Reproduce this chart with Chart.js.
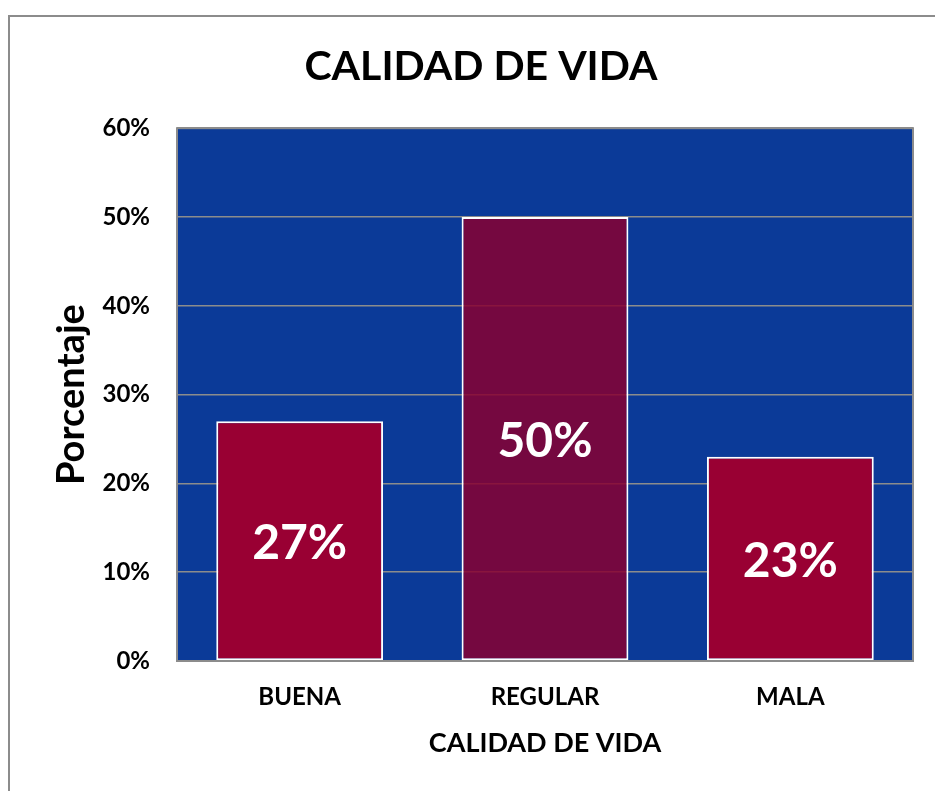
<!DOCTYPE html>
<html>
<head>
<meta charset="utf-8">
<script src="https://cdn.jsdelivr.net/npm/chart.js@4.4.1/dist/chart.umd.min.js"></script>
<style>
  html, body { margin: 0; padding: 0; background: #ffffff; }
  #frame { position: absolute; left: 8px; top: 15px; width: 1000px; height: 900px; border: 2px solid #8c8c8c; box-sizing: border-box; }
  #wrap { position: absolute; left: 0; top: 0; width: 935px; height: 791px; }
</style>
</head>
<body>
<div id="frame"></div>
<div id="wrap"><canvas id="c" width="935" height="791"></canvas></div>
<script>
const categories = ['BUENA', 'REGULAR', 'MALA'];
const values = [27, 50, 23];
const barColors = ['#990033', 'rgba(136, 0, 48, 0.85)', '#990033'];
const yTicks = [0, 10, 20, 30, 40, 50, 60];
const chartTitle = 'CALIDAD DE VIDA';
const xTitle = 'CALIDAD DE VIDA';
const yTitle = 'Porcentaje';

const FONT = 'Lato, Carlito, "Open Sans", sans-serif';

const plotBg = {
  id: 'plotBg',
  beforeDraw(chart) {
    const { ctx, chartArea: a } = chart;
    ctx.save();
    ctx.fillStyle = '#0b3a98';
    ctx.fillRect(a.left, a.top, a.right - a.left, a.bottom - a.top);
    ctx.restore();
  },
  afterDraw(chart) {
    const { ctx, chartArea: a } = chart;
    ctx.save();
    ctx.strokeStyle = '#8c8c8c';
    ctx.lineWidth = 2;
    ctx.strokeRect(a.left, a.top, a.right - a.left, a.bottom - a.top);
    ctx.restore();
  }
};

const barLabels = {
  id: 'barLabels',
  afterDatasetsDraw(chart) {
    const { ctx } = chart;
    const meta = chart.getDatasetMeta(0);
    ctx.save();
    ctx.fillStyle = '#ffffff';
    ctx.font = 'bold 48px ' + FONT;
    ctx.textAlign = 'center';
    ctx.textBaseline = 'middle';
    meta.data.forEach((bar, i) => {
      const yMid = (bar.y + bar.base) / 2;
      ctx.fillText(values[i] + '%', bar.x, yMid + 3);
    });
    ctx.restore();
  }
};

new Chart(document.getElementById('c'), {
  type: 'bar',
  data: {
    labels: categories,
    datasets: [{
      data: values,
      backgroundColor: barColors,
      borderColor: '#ffffff',
      borderWidth: 2,
      borderSkipped: false,
      categoryPercentage: 0.68,
      barPercentage: 1.0
    }]
  },
  options: {
    responsive: false,
    animation: false,
    devicePixelRatio: 1,
    layout: { padding: { top: 42, left: 49, right: 22, bottom: 32 } },
    plugins: {
      legend: { display: false },
      tooltip: { enabled: false },
      title: {
        display: true,
        text: chartTitle,
        color: '#000000',
        font: { family: FONT, size: 41, weight: 'bold' },
        padding: { top: 0, bottom: 37 }
      }
    },
    scales: {
      x: {
        grid: { display: false, drawTicks: false },
        border: { display: false },
        ticks: { color: '#000000', font: { family: FONT, size: 24, weight: 'bold' }, padding: 22 },
        title: { display: true, text: xTitle, color: '#000000', font: { family: FONT, size: 27, weight: 'bold' }, padding: { top: 0, bottom: 0 } },
        afterFit(axis) { axis.height = 98; }
      },
      y: {
        min: 0, max: 60,
        afterBuildTicks(axis) { axis.ticks = yTicks.map(v => ({ value: v })); },
        grid: { color: '#8c8c8c', lineWidth: 1.5, drawTicks: false },
        border: { display: false },
        ticks: { color: '#000000', font: { family: FONT, size: 24, weight: 'bold' }, padding: 27, callback: v => v + '%' },
        title: { display: true, text: yTitle, color: '#000000', font: { family: FONT, size: 38, weight: 'bold' }, padding: { top: 0, bottom: 0 } },
        afterFit(axis) { axis.width = 128; }
      }
    }
  },
  plugins: [plotBg, barLabels]
});
</script>
</body>
</html>
